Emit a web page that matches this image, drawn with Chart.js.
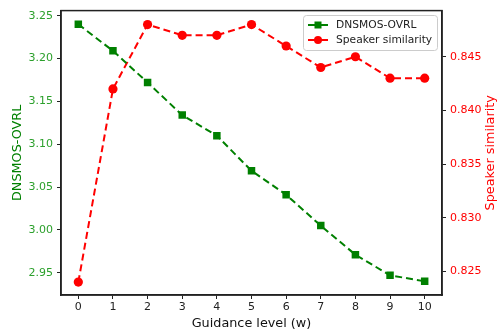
<!DOCTYPE html>
<html><head><meta charset="utf-8">
<script src="https://cdn.jsdelivr.net/npm/chart.js@4/dist/chart.umd.min.js"></script>
<style>html,body{margin:0;padding:0;background:#fff}#w{width:501px;height:331px}</style>
</head><body><div id="w"><canvas id="c" width="501" height="331"></canvas></div>
<script>
const guidance = [0,1,2,3,4,5,6,7,8,9,10];
const dnsmos = [3.240,3.209,3.172,3.134,3.110,3.069,3.041,3.005,2.971,2.947,2.940];
const speakerSim = [0.824,0.842,0.848,0.847,0.847,0.848,0.846,0.844,0.845,0.843,0.843];
const leftTicks = [2.95,3.00,3.05,3.10,3.15,3.20,3.25];
const rightTicks = [0.825,0.830,0.835,0.840,0.845];
const rightTitle = 'Speaker similarity';

const FONT = "'DejaVu Sans', sans-serif";

const framePlugin = {
  id:'frame',
  afterDraw(chart){
    const {ctx, chartArea:a} = chart;
    ctx.save();
    ctx.strokeStyle='#222'; ctx.lineWidth=1.5;
    ctx.strokeRect(a.left, a.top, a.right-a.left, a.bottom-a.top);
    // right axis title, reading bottom to top
    ctx.save();
    ctx.translate(491, (a.top+a.bottom)/2);
    ctx.rotate(-Math.PI/2);
    ctx.font = "12.8px "+FONT; ctx.fillStyle='red';
    ctx.textAlign='center'; ctx.textBaseline='middle';
    ctx.fillText(rightTitle, 0, 0);
    ctx.restore();
    // legend
    const ds = chart.data.datasets;
    const bx=303, by=15, bw=134, bh=35;
    ctx.fillStyle='rgba(255,255,255,0.8)';
    ctx.strokeStyle='#ccc'; ctx.lineWidth=1;
    ctx.beginPath(); ctx.roundRect(bx+0.5,by+0.5,bw,bh,3); ctx.fill(); ctx.stroke();
    ctx.font = "10.7px "+FONT; ctx.textBaseline='middle'; ctx.textAlign='left';
    ds.forEach((d,i)=>{
      const y = by+10+i*15;
      ctx.strokeStyle=d.borderColor; ctx.lineWidth=2; ctx.setLineDash([]);
      ctx.beginPath(); ctx.moveTo(bx+5,y); ctx.lineTo(bx+25,y); ctx.stroke();
      ctx.fillStyle=d.borderColor;
      if(d.pointStyle==='rect'){ ctx.fillRect(bx+15-3.5,y-3.5,7,7); }
      else { ctx.beginPath(); ctx.arc(bx+15,y,4,0,Math.PI*2); ctx.fill(); }
      ctx.fillStyle='#222';
      ctx.fillText(d.label, bx+33, y+0.5);
    });
    ctx.restore();
  }
};

new Chart(document.getElementById('c'), {
  type:'line',
  data:{
    datasets:[
      {label:'DNSMOS-OVRL', data:guidance.map((g,i)=>({x:g,y:dnsmos[i]})), yAxisID:'y',
       borderColor:'green', backgroundColor:'green', borderWidth:2, borderDash:[7,4],
       pointStyle:'rect', pointRadius:5.3, pointBorderWidth:0, tension:0},
      {label:'Speaker similarity', data:guidance.map((g,i)=>({x:g,y:speakerSim[i]})), yAxisID:'y2',
       borderColor:'red', backgroundColor:'red', borderWidth:2, borderDash:[7,4],
       pointStyle:'circle', pointRadius:4.6, pointBorderWidth:0, tension:0}
    ]
  },
  options:{
    responsive:false, animation:false, devicePixelRatio:1,
    layout:{padding:{top:10,left:0,right:0,bottom:0}},
    plugins:{legend:{display:false}, tooltip:{enabled:false}},
    scales:{
      x:{type:'linear', min:-0.5, max:10.5,
        afterBuildTicks(ax){ ax.ticks = guidance.map(v=>({value:v})); },
        ticks:{color:'#222', font:{family:FONT,size:11}, padding:2, maxRotation:0},
        grid:{drawOnChartArea:false, drawTicks:true, tickLength:4, color:'#222'},
        border:{display:true,color:'#222',width:1.5},
        title:{display:true,text:'Guidance level (w)',color:'#111',font:{family:FONT,size:12.8},padding:{top:1,bottom:0}},
        afterFit(ax){ ax.height=36; }
      },
      y:{type:'linear', position:'left', min:2.924, max:3.256,
        afterBuildTicks(ax){ ax.ticks = leftTicks.map(v=>({value:v})); },
        ticks:{color:'#2ca02c', font:{family:FONT,size:11}, padding:4, callback:v=>v.toFixed(2)},
        grid:{drawOnChartArea:false, drawTicks:true, tickLength:4, color:'#222'},
        border:{display:true,color:'#222',width:1.5},
        title:{display:true,text:'DNSMOS-OVRL',color:'green',font:{family:FONT,size:12.8},padding:{top:10,bottom:4}},
        afterFit(ax){ ax.width=61; }
      },
      y2:{type:'linear', position:'right', min:0.8228, max:0.8493,
        afterBuildTicks(ax){ ax.ticks = rightTicks.map(v=>({value:v})); },
        ticks:{color:'red', font:{family:FONT,size:11}, padding:4, callback:v=>v.toFixed(3)},
        grid:{drawOnChartArea:false, drawTicks:true, tickLength:4, color:'#222'},
        border:{display:true,color:'#222',width:1.5},
        title:{display:false},
        afterFit(ax){ ax.width=59; }
      }
    }
  },
  plugins:[framePlugin]
});
</script></body></html>
